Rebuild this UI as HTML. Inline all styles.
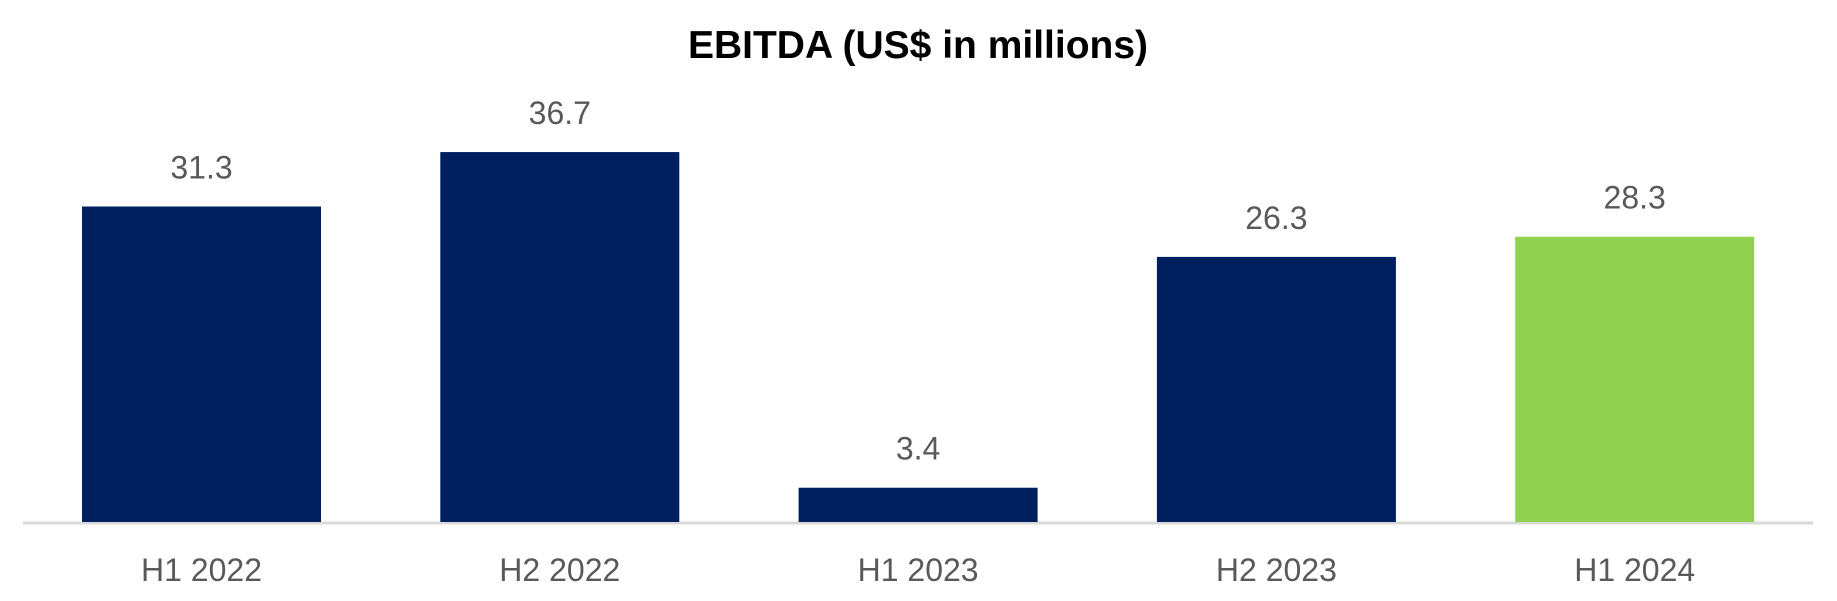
<!DOCTYPE html>
<html><head><meta charset="utf-8"><style>
html,body{margin:0;padding:0;background:#fff;}
svg{display:block;font-family:"Liberation Sans",Arial,sans-serif;}
</style></head><body>
<svg id="chart" width="1837" height="601" viewBox="0 0 1837 601">
<text x="918" y="58" text-anchor="middle" font-size="39" font-weight="bold" fill="#000">EBITDA (US$ in millions)</text>
<line x1="23" y1="523" x2="1813" y2="523" stroke="#d9d9d9" stroke-width="3"/>
<g id="bars"></g>
</svg>
<script>
const categories = ["H1 2022","H2 2022","H1 2023","H2 2023","H1 2024"];
const values = [31.3, 36.7, 3.4, 26.3, 28.3];
const valueLabels = ["31.3","36.7","3.4","26.3","28.3"];
const colors = ["#001f5f","#001f5f","#001f5f","#001f5f","#92d050"];
const baseY = 522, pxPerUnit = 10.08, left = 82, step = 358.3, barW = 239;
function y(v){ return baseY - v * pxPerUnit; }
function x(i){ return left + i * step; }
const ns = "http://www.w3.org/2000/svg";
const g = document.getElementById("bars");
categories.forEach((c, i) => {
  const r = document.createElementNS(ns, "rect");
  
  
  r.setAttribute("x", x(i)); r.setAttribute("width", barW);
  r.setAttribute("y", y(values[i])); r.setAttribute("height", baseY - y(values[i]));
  r.setAttribute("fill", colors[i]);
  g.appendChild(r);
  const t = document.createElementNS(ns, "text");
  
  
  t.setAttribute("x", x(i) + barW / 2); t.setAttribute("y", y(values[i]) - 28);
  t.setAttribute("text-anchor", "middle"); t.setAttribute("font-size", "32"); t.setAttribute("fill", "#595959");
  t.textContent = valueLabels[i];
  g.appendChild(t);
  const l = document.createElementNS(ns, "text");
  
  
  l.setAttribute("x", x(i) + barW / 2); l.setAttribute("y", 581);
  l.setAttribute("text-anchor", "middle"); l.setAttribute("font-size", "32"); l.setAttribute("fill", "#595959");
  l.textContent = c;
  g.appendChild(l);
});
</script>
</body></html>
